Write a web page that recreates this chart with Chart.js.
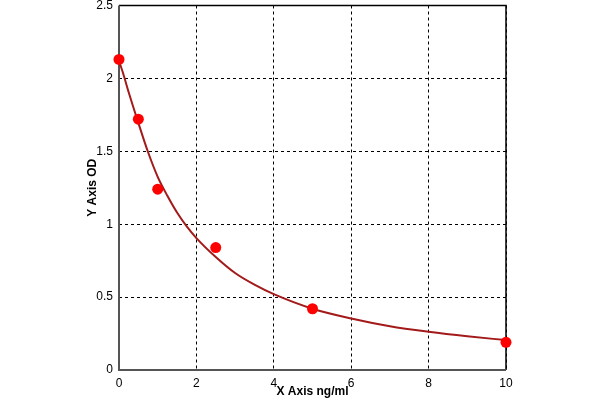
<!DOCTYPE html>
<html>
<head>
<meta charset="utf-8">
<script src="https://cdn.jsdelivr.net/npm/chart.js@4.4.0/dist/chart.umd.min.js"></script>
<style>
  html, body { margin: 0; padding: 0; background: #fff; }
  #wrap { width: 600px; height: 400px; }
</style>
</head>
<body>
<div id="wrap"><canvas id="chart" width="600" height="400"></canvas></div>
<script>
// ---------- DATA ----------
const concX = [0, 0.5, 1, 2.5, 5, 10];
const odY = [2.13, 1.72, 1.24, 0.84, 0.42, 0.19];

// fitted curve
const curveX = [0, 0.1, 0.25, 0.5, 0.75, 1, 1.25, 1.5, 1.75, 2, 2.5, 3, 3.5, 4, 5, 6, 7, 8, 9, 10];
const curveY = [2.12, 2.04, 1.905, 1.695, 1.495, 1.325, 1.195, 1.08, 0.985, 0.905, 0.775, 0.665, 0.585, 0.52, 0.42, 0.353, 0.30, 0.262, 0.231, 0.205];

const xTicks = [0, 2, 4, 6, 8, 10];
const yTicks = [0, 0.5, 1, 1.5, 2, 2.5];
const xTitle = "X Axis ng/ml";
const yTitle = "Y Axis OD";

// ---------- PLUGINS ----------
const frame = {
  id: "frame",
  beforeDatasetsDraw(chart) {
    const { ctx, chartArea: a } = chart;
    ctx.save();
    ctx.strokeStyle = "#000";
    ctx.lineWidth = 1.5;
    ctx.beginPath();
    ctx.moveTo(a.left, a.top);
    ctx.lineTo(a.right, a.top);
    ctx.lineTo(a.right, a.bottom);
    ctx.stroke();
    ctx.strokeStyle = "#555";
    ctx.lineWidth = 2;
    ctx.beginPath();
    ctx.moveTo(a.left, a.top);
    ctx.lineTo(a.left, a.bottom);
    ctx.lineTo(a.right, a.bottom);
    ctx.stroke();

    // axis titles
    ctx.fillStyle = "#000";
    ctx.font = "bold 12px 'Liberation Sans'";
    ctx.textAlign = "center";
    ctx.textBaseline = "middle";
    ctx.fillText(xTitle, (a.left + a.right) / 2, 392);
    ctx.translate(93, (a.top + a.bottom) / 2);
    ctx.rotate(-Math.PI / 2);
    ctx.fillText(yTitle, 0, 0);
    ctx.restore();
  }
};

// ---------- CHART ----------
const ctx = document.getElementById("chart");
new Chart(ctx, {
  type: "scatter",
  data: {
    datasets: [
      {
        label: "curve",
        data: curveX.map((x, i) => ({ x, y: curveY[i] })),
        showLine: true,
        borderColor: "#a31a1a",
        borderWidth: 2,
        pointRadius: 0,
        cubicInterpolationMode: "monotone",
        order: 2
      },
      {
        label: "standards",
        data: concX.map((x, i) => ({ x, y: odY[i] })),
        backgroundColor: "#ff0000",
        borderColor: "#ff0000",
        pointRadius: 5.5,
        pointBorderWidth: 0,
        clip: false,
        order: 1
      }
    ]
  },
  options: {
    responsive: false,
    animation: false,
    layout: { padding: { left: 0, right: 94, top: 5, bottom: 0 } },
    plugins: { legend: { display: false }, tooltip: { enabled: false } },
    scales: {
      x: {
        type: "linear",
        min: 0, max: 10,
        afterBuildTicks: s => { s.ticks = xTicks.map(v => ({ value: v })); },
        afterFit: s => { s.height = 30; s.paddingLeft = 0; s.paddingRight = 0; },
        ticks: { color: "#000", font: { family: "Liberation Sans", size: 12 }, padding: 6 },
        grid: { color: "#000", lineWidth: 1, drawTicks: false },
        border: { display: false, dash: [3, 3] }
      },
      y: {
        type: "linear",
        min: 0, max: 2.5,
        afterBuildTicks: s => { s.ticks = yTicks.map(v => ({ value: v })); },
        afterFit: s => { s.width = 119; s.paddingTop = 0; s.paddingBottom = 0; },
        ticks: {
          color: "#000", font: { family: "Liberation Sans", size: 12 }, padding: 6,
          callback: v => String(v)
        },
        grid: { color: "#000", lineWidth: 1, drawTicks: false },
        border: { display: false, dash: [3, 3] }
      }
    }
  },
  plugins: [frame]
});
</script>
</body>
</html>
